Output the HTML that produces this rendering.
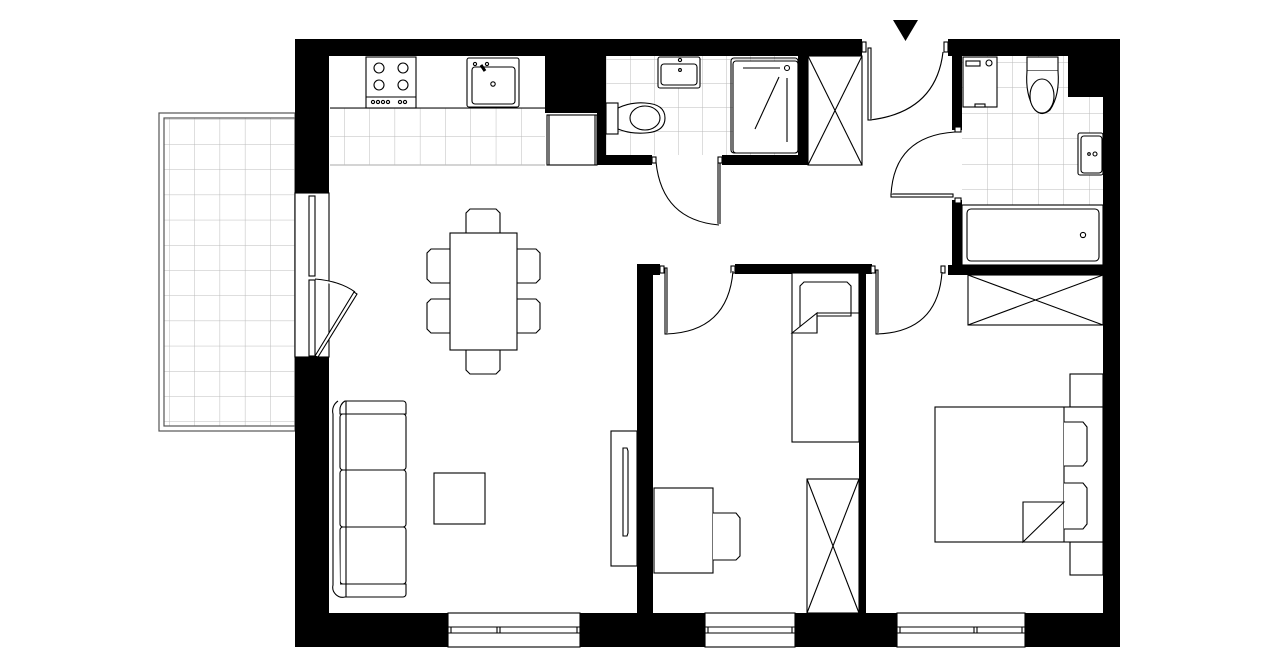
<!DOCTYPE html>
<html><head><meta charset="utf-8"><style>html,body{margin:0;padding:0;background:#fff}svg{display:block}</style></head>
<body>
<svg width="1280" height="667" viewBox="0 0 1280 667" xmlns="http://www.w3.org/2000/svg">
<defs>
<pattern id="tb" x="169" y="119" width="25.3" height="25.2" patternUnits="userSpaceOnUse"><path d="M0 0V25.2M0 0H25.3" stroke="#bbb" stroke-width="1" fill="none"/></pattern>
<pattern id="tk" x="344" y="108" width="25.3" height="28.5" patternUnits="userSpaceOnUse"><path d="M0 0V28.5M0 0H25.3" stroke="#bbb" stroke-width="1" fill="none"/></pattern>
<pattern id="t1" x="630" y="83" width="24" height="24" patternUnits="userSpaceOnUse"><path d="M0 0V24M0 0H24" stroke="#bbb" stroke-width="1" fill="none"/></pattern>
<pattern id="t2" x="987" y="62" width="25.5" height="25.5" patternUnits="userSpaceOnUse"><path d="M0 0V25.5M0 0H25.5" stroke="#bbb" stroke-width="1" fill="none"/></pattern>
</defs>
<g fill="none" stroke="#000" stroke-width="1.2">
<!-- balcony -->
<rect x="159" y="113" width="136" height="318" fill="#fff" stroke="#555"/>
<rect x="164" y="118" width="131" height="308" fill="url(#tb)" stroke="#555"/>
<!-- tiles -->
<rect x="330" y="108" width="215" height="57" fill="url(#tk)" stroke="none"/>
<line x1="330" y1="108" x2="545" y2="108" stroke="#999"/>
<line x1="330" y1="165" x2="545" y2="165" stroke="#bbb"/>
<rect x="606" y="56" width="192" height="99" fill="url(#t1)" stroke="none"/>
<rect x="962" y="56" width="141" height="149" fill="url(#t2)" stroke="none"/>
</g>
<!-- walls -->
<g fill="#000">
<rect x="295" y="39" width="567" height="17"/>
<rect x="948" y="39" width="172" height="17"/>
<rect x="295" y="39" width="34" height="154"/>
<rect x="295" y="357" width="34" height="290"/>
<rect x="1103" y="39" width="17" height="608"/>
<rect x="1068" y="39" width="52" height="58"/>
<rect x="295" y="613" width="825" height="34"/>
<rect x="545" y="56" width="52" height="57"/>
<rect x="597" y="56" width="9" height="109"/>
<rect x="597" y="155" width="55" height="10"/>
<rect x="722" y="155" width="86" height="10"/>
<rect x="798" y="56" width="10" height="109"/>
<rect x="952" y="56" width="10" height="74"/>
<rect x="952" y="200" width="10" height="75"/>
<rect x="948" y="265" width="155" height="10"/>
<rect x="637" y="264" width="16" height="349"/>
<rect x="637" y="264" width="23" height="11"/>
<rect x="735" y="264" width="137" height="10"/>
<rect x="859" y="264" width="7" height="349"/>
<polygon points="893,20 918,20 905.5,41"/>
</g>
<g fill="#fff" stroke="#000" stroke-width="1.1">
<!-- bottom windows -->
<rect x="448" y="613" width="132" height="34"/><line x1="448" y1="627" x2="580" y2="627"/><line x1="448" y1="633" x2="580" y2="633"/><line x1="451" y1="627" x2="451" y2="633"/><line x1="497" y1="627" x2="497" y2="633"/><line x1="500" y1="627" x2="500" y2="633"/><line x1="577" y1="627" x2="577" y2="633"/>
<rect x="705" y="613" width="90" height="34"/><line x1="705" y1="627" x2="795" y2="627"/><line x1="705" y1="633" x2="795" y2="633"/><line x1="708" y1="627" x2="708" y2="633"/><line x1="792" y1="627" x2="792" y2="633"/>
<rect x="897" y="613" width="128" height="34"/><line x1="897" y1="627" x2="1025" y2="627"/><line x1="897" y1="633" x2="1025" y2="633"/><line x1="900" y1="627" x2="900" y2="633"/><line x1="974" y1="627" x2="974" y2="633"/><line x1="977" y1="627" x2="977" y2="633"/><line x1="1022" y1="627" x2="1022" y2="633"/>
<!-- left window / balcony door -->
<rect x="295" y="193" width="34" height="164"/>
<rect x="309" y="196" width="6" height="80"/><rect x="309" y="280" width="6" height="76"/>
<polygon points="315,356 354,292 357,294 318,357"/>
<path d="M315 279 Q340 281 355 292"/>
<!-- kitchen counter -->
<rect x="330" y="56" width="215" height="52" stroke="none"/>
<line x1="330" y1="108" x2="545" y2="108"/>
<rect x="366" y="57" width="50" height="51"/><line x1="366" y1="97" x2="416" y2="97"/>
<circle cx="379" cy="68" r="5"/><circle cx="403" cy="68" r="5"/><circle cx="379" cy="85" r="5"/><circle cx="403" cy="85" r="5"/>
<circle cx="373" cy="102" r="1.6"/><circle cx="378" cy="102" r="1.6"/><circle cx="383" cy="102" r="1.6"/><circle cx="388" cy="102" r="1.6"/><circle cx="400" cy="102" r="1.6"/><circle cx="405" cy="102" r="1.6"/>
<rect x="467" y="58" width="52" height="49" rx="2"/><rect x="472" y="67" width="43" height="37" rx="3"/><circle cx="493" cy="84" r="2.2"/><circle cx="475" cy="64" r="1.6"/><circle cx="487" cy="64" r="1.6"/><path d="M481 65 L485 71" stroke-width="3"/>
<!-- fridge -->
<rect x="547" y="115" width="50" height="50"/><line x1="549" y1="115" x2="549" y2="165"/><line x1="595" y1="115" x2="595" y2="165"/>
<!-- bathroom 1 -->
<rect x="658" y="57" width="42" height="31" rx="2"/><rect x="661" y="64" width="36" height="21" rx="3"/><circle cx="680" cy="60" r="1.6"/><circle cx="680" cy="70" r="1.4"/>
<rect x="606" y="103" width="12" height="31"/>
<path d="M618 108 Q630 102 645 103 Q665 104 665 118 Q665 132 645 133 Q630 134 618 129 Z"/>
<ellipse cx="645" cy="118" rx="15" ry="12"/>
<rect x="733" y="61" width="65" height="92" rx="3" fill="#fff"/>
<rect x="731" y="58" width="67" height="95" rx="3" fill="none"/>
<line x1="743" y1="68" x2="780" y2="68"/><circle cx="787" cy="68" r="2.5"/><line x1="779" y1="77" x2="755" y2="129"/><line x1="787" y1="78" x2="787" y2="142"/>
<rect x="808" y="56" width="54" height="109"/><line x1="808" y1="56" x2="862" y2="165"/><line x1="862" y1="56" x2="808" y2="165"/>
<!-- bathroom door -->
<rect x="652" y="157" width="4" height="6"/><rect x="718" y="157" width="4" height="6"/>
<line x1="720" y1="163" x2="720" y2="224"/><line x1="718" y1="163" x2="718" y2="224"/>
<path d="M656 162 Q662 220 719 225"/>
<!-- entrance door -->
<rect x="862" y="42" width="4" height="10"/><rect x="944" y="42" width="4" height="10"/>
<rect x="868" y="48" width="3" height="72"/>
<path d="M870 120 Q936 112 943 52"/>
<!-- bathroom 2 door -->
<rect x="955" y="127" width="6" height="5"/><rect x="955" y="198" width="6" height="5"/>
<rect x="891" y="194" width="62" height="3"/>
<path d="M891 195 Q894 136 955 132"/>
<!-- bathroom 2 -->
<rect x="963" y="57" width="34" height="50"/><rect x="966" y="61" width="14" height="5"/><circle cx="989" cy="63" r="3"/><rect x="975" y="104" width="10" height="3"/>
<rect x="1027" y="57" width="31" height="14"/>
<path d="M1027 71 Q1025 95 1035 110 Q1042 117 1050 110 Q1060 95 1058 71"/>
<ellipse cx="1042" cy="96" rx="12" ry="17"/>
<rect x="1078" y="133" width="25" height="42" rx="2"/><rect x="1081" y="136" width="21" height="37" rx="3"/><circle cx="1095" cy="154" r="2"/><circle cx="1089" cy="154" r="1.3"/>
<rect x="962" y="205" width="141" height="60"/><rect x="967" y="209" width="132" height="52" rx="4"/><circle cx="1083" cy="235" r="2.6"/>
<!-- bedroom2 closet -->
<rect x="968" y="275" width="135" height="50"/><line x1="968" y1="275" x2="1103" y2="325"/><line x1="1103" y1="275" x2="968" y2="325"/>
<!-- bedroom doors -->
<rect x="660" y="266" width="4" height="7"/><rect x="731" y="266" width="4" height="7"/>
<rect x="665" y="268" width="2" height="66"/>
<path d="M666 334 Q728 332 733 271"/>
<rect x="871" y="266" width="4" height="7"/><rect x="941" y="266" width="4" height="7"/>
<rect x="876" y="270" width="2" height="64"/>
<path d="M877 334 Q938 332 942 272"/>
<!-- dining -->
<path d="M466 233 V213 l4 -4 h26 l4 4 V233"/>
<path d="M466 350 V370 l4 4 h26 l4 -4 V350"/>
<path d="M450 249 H431 l-4 4 v26 l4 4 H450"/>
<path d="M450 299 H431 l-4 4 v26 l4 4 H450"/>
<path d="M517 249 H536 l4 4 v26 l-4 4 H517"/>
<path d="M517 299 H536 l4 4 v26 l-4 4 H517"/>
<rect x="450" y="233" width="67" height="117"/>
<!-- sofa -->
<path d="M345 401 h58 a3 3 0 0 1 3 3 v10 H340 v-3 a10 10 0 0 1 5 -10 Z"/>
<rect x="340" y="414" width="66" height="56" rx="3"/>
<rect x="340" y="470" width="66" height="57" rx="3"/>
<rect x="340" y="527" width="66" height="57" rx="3"/>
<path d="M340 584 h66 v10 a3 3 0 0 1 -3 3 h-58 a10 10 0 0 1 -12 -12 V414 a12 12 0 0 1 5 -13"/>
<line x1="346" y1="401" x2="346" y2="597"/>
<rect x="434" y="473" width="51" height="51"/>
<!-- tv -->
<rect x="611" y="431" width="26" height="135"/>
<path d="M623 448 h4 l1 3 v82 l-1 3 h-4 Z"/>
<!-- bedroom1 -->
<rect x="792" y="273" width="67" height="169"/>
<path d="M804 282 h43 l4 4 v30 H817 v17 h-10 l-7 -6 V286 Z"/>
<path d="M792 333 L817 313 V333 Z"/><line x1="817" y1="313" x2="859" y2="313"/>
<rect x="654" y="488" width="59" height="85"/>
<path d="M713 513 h23 l4 5 v38 l-4 4 h-23"/>
<rect x="807" y="479" width="52" height="134"/><line x1="807" y1="479" x2="859" y2="613"/><line x1="859" y1="479" x2="807" y2="613"/>
<!-- bedroom2 -->
<rect x="1070" y="374" width="33" height="33"/>
<rect x="1070" y="542" width="33" height="33"/>
<rect x="935" y="407" width="168" height="135"/>
<line x1="1064" y1="407" x2="1064" y2="542"/>
<path d="M1064 422 h19 l4 5 v34 l-4 5 h-19"/>
<path d="M1064 483 h19 l4 5 v36 l-4 5 h-19"/>
<path d="M1023 542 V502 H1064 Z"/>
</g>
</svg>
</body></html>
